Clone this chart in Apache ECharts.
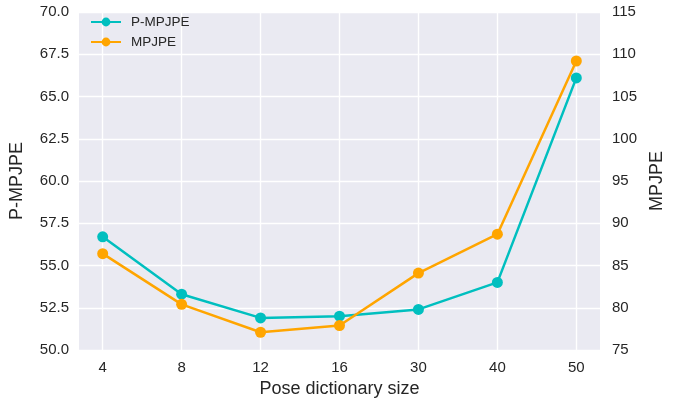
<!DOCTYPE html>
<html><head><meta charset="utf-8">
<script src="https://cdn.jsdelivr.net/npm/echarts@6/dist/echarts.min.js"></script>
<style>html,body{margin:0;padding:0;background:#fff}#c{width:681px;height:401px}</style>
</head><body><div id="c"></div>
<script>
const categories = ['4','8','12','16','30','40','50'];
const pmpjpe = [56.7, 53.3, 51.9, 52.0, 52.4, 54.0, 66.1];
const mpjpe = [86.4, 80.4, 77.1, 77.9, 84.1, 88.7, 109.2];
const idx = categories.map((c,i)=>i);
const font = 'Liberation Sans, Arial, sans-serif';
const txt = '#262626';
const chart = echarts.init(document.getElementById('c'), null, {renderer:'canvas'});
chart.setOption({
  animation:false,
  textStyle:{fontFamily:font},
  grid:{left:79,right:81,top:12,bottom:51,show:true,backgroundColor:'#EAEAF2',borderWidth:0,
    outerBoundsMode:'none', containLabel:false},
  legend:{
    left:90, top:15, padding:0, orient:'vertical', itemWidth:30, itemHeight:11, itemGap:6,
    textStyle:{fontFamily:font,fontSize:13.5,color:txt,padding:[0,0,0,5]},
    data:['P-MPJPE','MPJPE']
  },
  xAxis:{
    type:'value', min:-0.3, max:6.3,
    name:'Pose dictionary size', nameLocation:'middle', nameGap:29,
    nameTextStyle:{fontFamily:font,fontSize:18,color:txt},
    axisLine:{show:false}, 
    axisTick:{show:false, customValues:idx},
    axisLabel:{customValues:idx, formatter:v=>categories[Math.round(v)], margin:10,
      fontFamily:font,fontSize:15,color:txt},
    splitLine:{show:true,lineStyle:{color:'#fff',width:1.4}}
  },
  yAxis:[{
    type:'value', min:50, max:70, interval:2.5,
    name:'P-MPJPE', nameLocation:'middle', nameGap:53,
    nameTextStyle:{fontFamily:font,fontSize:18,color:txt},
    axisLine:{show:false}, axisTick:{show:false},
    axisLabel:{formatter:v=>v.toFixed(1), margin:10, fontFamily:font,fontSize:15,color:txt},
    splitLine:{show:true,lineStyle:{color:'#fff',width:1.4}}
  },{
    type:'value', min:75, max:115, interval:5, position:'right',
    name:'MPJPE', nameLocation:'middle', nameGap:41, nameRotate:90,
    nameTextStyle:{fontFamily:font,fontSize:18,color:txt},
    axisLine:{show:false}, axisTick:{show:false},
    axisLabel:{margin:12, fontFamily:font,fontSize:15,color:txt},
    splitLine:{show:false}
  }],
  series:[{
    name:'P-MPJPE', type:'line', yAxisIndex:0,
    data:pmpjpe.map((v,i)=>[idx[i],v]),
    symbol:'circle', symbolSize:11,
    itemStyle:{color:'#00BFBF'}, lineStyle:{color:'#00BFBF',width:2.5}
  },{
    name:'MPJPE', type:'line', yAxisIndex:1,
    data:mpjpe.map((v,i)=>[idx[i],v]),
    symbol:'circle', symbolSize:11,
    itemStyle:{color:'#FFA500'}, lineStyle:{color:'#FFA500',width:2.5}
  }]
});
</script></body></html>
